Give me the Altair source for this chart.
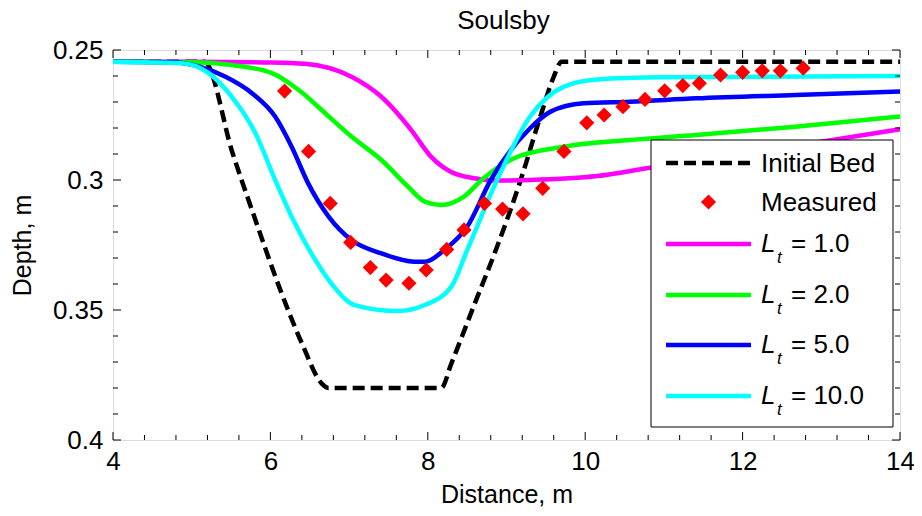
import altair as alt
import pandas as pd

# ---------------- data ----------------
bed_x = [4.0, 5.16, 5.52, 5.81, 6.11, 6.40, 6.65, 6.74, 8.17, 8.30, 8.59, 8.88, 9.18, 9.43, 9.60, 9.70, 14.0]
bed_d = [0.2545, 0.2545, 0.2897, 0.3154, 0.341, 0.3628, 0.3782, 0.380, 0.380, 0.3705, 0.348, 0.3257, 0.300, 0.2756, 0.2603, 0.2545, 0.2545]

meas_x = [6.18, 6.485, 6.76, 7.02, 7.27, 7.47, 7.76, 7.98, 8.24, 8.46, 8.72, 8.95, 9.21, 9.46,
          9.73, 10.02, 10.24, 10.48, 10.76, 11.01, 11.24, 11.45, 11.72, 12.0, 12.25, 12.48, 12.77]
meas_d = [0.2658, 0.289, 0.309, 0.324, 0.3337, 0.3385, 0.3397, 0.3346, 0.3267, 0.3192, 0.309, 0.3112, 0.313, 0.3032,
          0.289, 0.278, 0.275, 0.2718, 0.269, 0.2657, 0.2637, 0.2628, 0.2596, 0.2586, 0.258, 0.258, 0.257]

lt1_x = [4.0, 5.0, 6.0, 6.44, 7.03, 7.41, 7.79, 8.04, 8.29, 8.59, 8.88, 9.3, 10.15, 10.78, 12.0, 13.14, 14.0]
lt1_d = [0.2545, 0.2545, 0.2548, 0.2553, 0.2603, 0.268, 0.2808, 0.291, 0.2968, 0.2993, 0.3002, 0.300, 0.2985, 0.2955, 0.290, 0.2846, 0.2805]

lt2_x = [4.0, 5.0, 5.51, 6.02, 6.36, 6.70, 7.03, 7.41, 7.75, 7.96, 8.17, 8.46, 8.70, 9.09, 9.73, 10.57, 11.41, 12.67, 14.0]
lt2_d = [0.2545, 0.2547, 0.2558, 0.2589, 0.2654, 0.2744, 0.2833, 0.2923, 0.3026, 0.3083, 0.3096, 0.3064, 0.2995, 0.2917, 0.2872, 0.2846, 0.2827, 0.2795, 0.2756]

lt5_x = [4.0, 4.76, 5.1, 5.43, 5.77, 6.06, 6.27, 6.48, 6.74, 7.03, 7.41, 7.83, 7.97, 8.21, 8.5, 8.8, 9.3, 9.56, 9.98, 10.57, 11.41, 12.67, 14.0]
lt5_d = [0.2545, 0.2547, 0.2564, 0.2603, 0.2667, 0.2756, 0.2872, 0.3013, 0.3141, 0.3231, 0.3282, 0.3314, 0.3314, 0.3269, 0.318, 0.300, 0.2801, 0.2737, 0.2705, 0.2699, 0.2686, 0.2673, 0.266]

lt10_x = [4.0, 4.88, 5.22, 5.51, 5.81, 6.06, 6.27, 6.52, 6.78, 7.07, 7.62, 7.96, 8.3, 8.5, 8.88, 9.3, 9.73, 10.15, 10.99, 14.0]
lt10_d = [0.2545, 0.2551, 0.259, 0.268, 0.282, 0.300, 0.3141, 0.3282, 0.340, 0.3481, 0.3504, 0.3481, 0.341, 0.327, 0.300, 0.2756, 0.2641, 0.2613, 0.2605, 0.260]

series_names = ["Initial Bed", "Measured", "1.0", "2.0", "5.0", "10.0"]
x_major = [4, 6, 8, 10, 12, 14]
y_major = [0.25, 0.3, 0.35, 0.4]
x_minor = [4.4, 4.8, 5.2, 5.6, 6.4, 6.8, 7.2, 7.6, 8.4, 8.8, 9.2, 9.6, 10.4, 10.8, 11.2, 11.6, 12.4, 12.8, 13.2, 13.6]
y_minor = [0.26, 0.27, 0.28, 0.29, 0.31, 0.32, 0.33, 0.34, 0.36, 0.37, 0.38, 0.39]
title_text = "Soulsby"

# ---------------- styling ----------------
FONT = "Liberation Sans, Arial, Helvetica, sans-serif"
FS = 26
W, H = 787, 390
LW = 4.5

xs = alt.Scale(domain=[4, 14], nice=False, zero=False)
ys = alt.Scale(domain=[0.25, 0.4], reverse=True, nice=False, zero=False)

x_axis = alt.Axis(values=x_major, format="d", title="Distance, m", tickSize=0, domain=False, grid=False,
                  labelFont=FONT, labelFontSize=FS, labelColor="black", labelPadding=8, labelFlush=False,
                  labelOverlap=False, titleFont=FONT, titleFontSize=25, titleFontWeight="normal",
                  titleColor="black", titlePadding=8)
y_axis = alt.Axis(values=y_major, format=".2~f", title="Depth, m", tickSize=0, domain=False, grid=False,
                  labelFont=FONT, labelFontSize=FS, labelColor="black", labelPadding=10, labelFlush=False,
                  labelOverlap=False, titleFont=FONT, titleFontSize=25, titleFontWeight="normal",
                  titleColor="black", titlePadding=17)

X = lambda: alt.X("x:Q", scale=xs, axis=x_axis)
Y = lambda: alt.Y("d:Q", scale=ys, axis=y_axis)


def curve(xv, dv, color, dash=None):
    df = pd.DataFrame({"x": xv, "d": dv})
    kw = dict(color=color, strokeWidth=LW, interpolate="monotone", strokeCap="butt")
    if dash:
        kw["strokeDash"] = dash
    return alt.Chart(df).mark_line(**kw).encode(x=X(), y=Y())


bed = curve(bed_x, bed_d, "black", dash=[12, 6])
c1 = curve(lt1_x, lt1_d, "#FF00FF")
c2 = curve(lt2_x, lt2_d, "#00FF00")
c5 = curve(lt5_x, lt5_d, "#0000FF")
c10 = curve(lt10_x, lt10_d, "#00FFFF")

meas = alt.Chart(pd.DataFrame({"x": meas_x, "d": meas_d})).mark_point(
    shape="diamond", filled=True, color="#FF0000", size=230, opacity=1
).encode(x=X(), y=Y())


# inward ticks on all four sides
def xticks(vals, length):
    df = pd.DataFrame({"x": vals})
    bot = alt.Chart(df).mark_rule(color="black", strokeWidth=1).encode(
        x=X(), y=alt.value(H), y2=alt.value(H - length))
    top = alt.Chart(df).mark_rule(color="black", strokeWidth=1).encode(
        x=X(), y=alt.value(0), y2=alt.value(length))
    return [bot, top]


def yticks(vals, length):
    df = pd.DataFrame({"d": vals})
    left = alt.Chart(df).mark_rule(color="black", strokeWidth=1).encode(
        y=Y(), x=alt.value(0), x2=alt.value(length))
    right = alt.Chart(df).mark_rule(color="black", strokeWidth=1).encode(
        y=Y(), x=alt.value(W), x2=alt.value(W - length))
    return [left, right]


ticks = xticks(x_major, 8) + xticks(x_minor, 5) + yticks(y_major, 8) + yticks(y_minor, 5)

one = pd.DataFrame({"k": [0]})

# title as a text mark above the plot
title = alt.Chart(one).mark_text(align="center", baseline="alphabetic", font=FONT, fontSize=FS, color="black",
                                 text=title_text).encode(x=alt.value(W / 2 - 3), y=alt.value(-21))

# ---------------- legend (box drawn inside the plot) ----------------
LX0, LX1, LY0, LY1 = 538, 780, 90, 377
SX0, SX1, TX = 553, 638, 648
row_y = [113, 152, 194, 245, 295, 346]

leg = [alt.Chart(one).mark_rect(fill="white", stroke="black", strokeWidth=1).encode(
    x=alt.value(LX0), x2=alt.value(LX1), y=alt.value(LY0), y2=alt.value(LY1))]

leg.append(alt.Chart(one).mark_rule(color="black", strokeWidth=LW, strokeDash=[12, 6]).encode(
    x=alt.value(SX0), x2=alt.value(SX1), y=alt.value(row_y[0])))
leg.append(alt.Chart(one).mark_point(shape="diamond", filled=True, color="#FF0000", size=230, opacity=1).encode(
    x=alt.value((SX0 + SX1) / 2), y=alt.value(row_y[1])))
for name, yy in zip(series_names[:2], row_y[:2]):
    leg.append(alt.Chart(one).mark_text(align="left", baseline="middle", font=FONT, fontSize=FS, color="black",
                                        text=name).encode(x=alt.value(TX), y=alt.value(yy + 1)))

line_cols = ["#FF00FF", "#00FF00", "#0000FF", "#00FFFF"]
for name, col, yy in zip(series_names[2:], line_cols, row_y[2:]):
    leg.append(alt.Chart(one).mark_rule(color=col, strokeWidth=LW).encode(
        x=alt.value(SX0), x2=alt.value(SX1), y=alt.value(yy)))
    leg.append(alt.Chart(one).mark_text(align="left", baseline="middle", font=FONT, fontSize=FS, fontStyle="italic",
                                        color="black", text="L").encode(x=alt.value(TX), y=alt.value(yy)))
    leg.append(alt.Chart(one).mark_text(align="left", baseline="middle", font=FONT, fontSize=17, fontStyle="italic",
                                        color="black", text="t").encode(x=alt.value(TX + 16), y=alt.value(yy + 14)))
    leg.append(alt.Chart(one).mark_text(align="left", baseline="middle", font=FONT, fontSize=FS,
                                        color="black", text="= " + name).encode(x=alt.value(TX + 30), y=alt.value(yy)))

chart = alt.layer(bed, c1, c2, c5, c10, meas, *ticks, title, *leg).properties(
    width=W, height=H,
    autosize=alt.AutoSizeParams(type="none"),
    padding={"left": 105, "top": 42, "right": 14, "bottom": 67},
).configure_view(stroke="black", strokeWidth=1).configure(background="white")

chart.save("out.html", embed_options={"renderer": "svg", "actions": False})
